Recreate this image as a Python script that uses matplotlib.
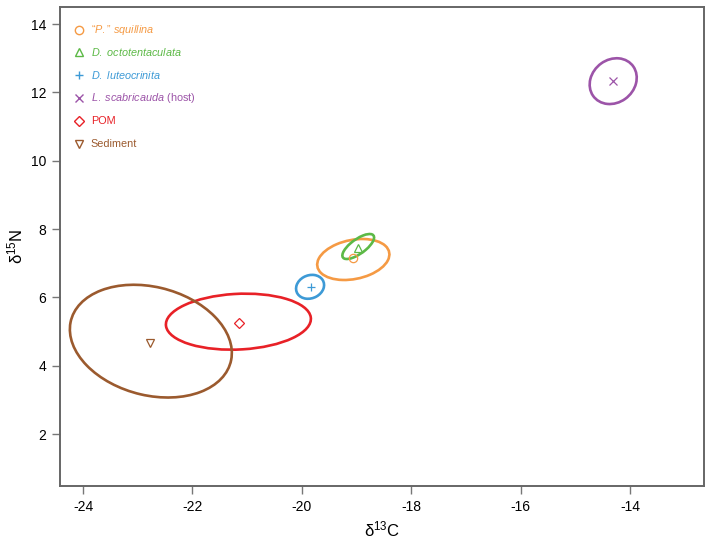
import numpy as np
import matplotlib
matplotlib.use('Agg')
import matplotlib.pyplot as plt
from matplotlib.patches import Ellipse

plt.rcParams['font.family'] = ['Liberation Sans', 'DejaVu Sans']
plt.rcParams['mathtext.fontset'] = 'custom'
plt.rcParams['mathtext.rm'] = 'Liberation Sans'
plt.rcParams['mathtext.it'] = 'Liberation Sans:italic'
plt.rcParams['axes.unicode_minus'] = False

# group means (d13C, d15N) and ellipse shape (half-extent x, half-extent y, correlation)
groups = ['$\\it{\u201cP.\u201d\\ squillina}$', r'$\it{D.\ octotentaculata}$', r'$\it{D.\ luteocrinita}$',
          r'$\it{L.\ scabricauda}$ (host)', 'POM', 'Sediment']
colors = ['#f59a44', '#5cb946', '#3d9ad6', '#9c54a8', '#e82127', '#9b5a2e']
markers = ['o', '^', '+', 'x', 'D', 'v']
mean_c = [-19.06, -18.97, -19.83, -14.31, -21.15, -22.78]
mean_n = [7.16, 7.46, 6.31, 12.33, 5.26, 4.67]
ell_cx = [-19.06, -18.97, -19.85, -14.31, -21.16, -22.76]
ell_cy = [7.11, 7.49, 6.31, 12.33, 5.29, 4.72]
ell_rx = [0.66, 0.29, 0.256, 0.43, 1.325, 1.48]
ell_ry = [0.60, 0.366, 0.35, 0.67, 0.82, 1.65]
ell_rho = [0.25, 0.72, 0.15, 0.15, 0.1, -0.21]

fig = plt.figure(figsize=(7.12, 5.4), dpi=100)
ax = fig.add_axes([0.0843, 0.1, 0.9045, 0.887])

for i in range(len(groups)):
    cov = np.array([[ell_rx[i] ** 2, ell_rho[i] * ell_rx[i] * ell_ry[i]],
                    [ell_rho[i] * ell_rx[i] * ell_ry[i], ell_ry[i] ** 2]])
    vals, vecs = np.linalg.eigh(cov)
    ang = np.degrees(np.arctan2(vecs[1, 1], vecs[0, 1]))
    e = Ellipse((ell_cx[i], ell_cy[i]), 2 * np.sqrt(vals[1]), 2 * np.sqrt(vals[0]),
                angle=ang, fill=False, edgecolor=colors[i], lw=1.9)
    ax.add_patch(e)
    ms = 5 if markers[i] == 'D' else 6
    ax.plot(mean_c[i], mean_n[i], marker=markers[i], color=colors[i], mfc='none',
            ms=ms, mew=0.9, ls='none')

    # hand-placed legend rows
    ly = 0.953 - i * 0.0477
    ax.plot(0.0295, ly, marker=markers[i], color=colors[i], mfc='none', ms=ms,
            mew=1.0, ls='none', transform=ax.transAxes, clip_on=False)
    ax.text(0.048, ly, groups[i], color=colors[i], fontsize=7.8, va='center',
            ha='left', transform=ax.transAxes)

ax.set_xlim(-24.42, -12.65)
ax.set_ylim(0.48, 14.5)
ax.set_xticks([-24, -22, -20, -18, -16, -14])
ax.set_yticks([2, 4, 6, 8, 10, 12, 14])
ax.tick_params(direction='out', length=6, width=1, color='#777777', labelsize=10, pad=4)
for s in ax.spines.values():
    s.set_color('#666666')
    s.set_linewidth(1.4)

ax.set_xlabel(r'δ$^{13}$C', fontsize=12, labelpad=4)
ax.set_ylabel(r'δ$^{15}$N', fontsize=12, labelpad=4)

fig.savefig('out.png', dpi=100)
